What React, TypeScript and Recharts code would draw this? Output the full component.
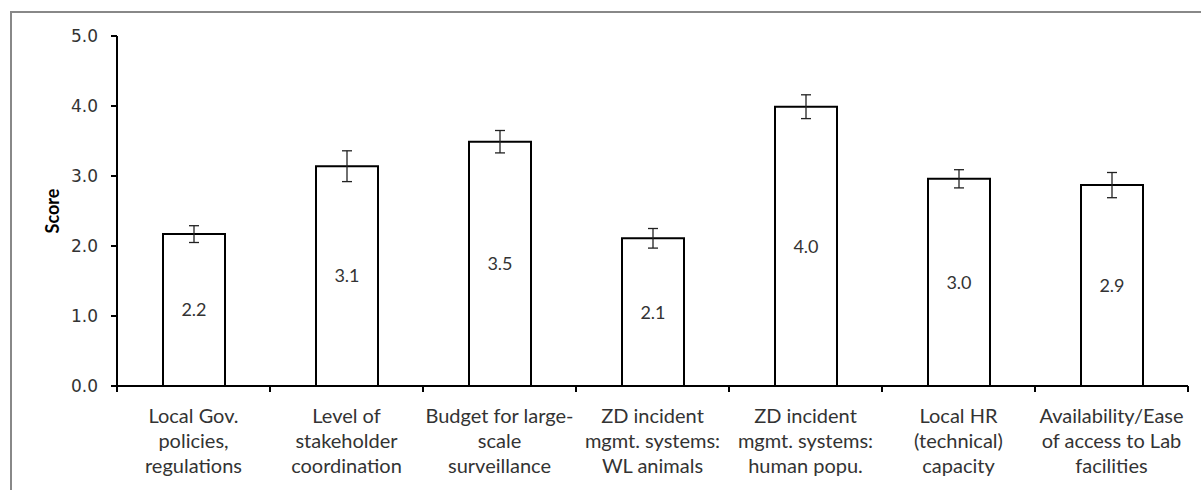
import React from "react";
import { Bar, BarChart, ErrorBar, LabelList, XAxis, YAxis } from "recharts";

const categories = [
  "Local Gov. policies, regulations",
  "Level of stakeholder coordination",
  "Budget for large-scale surveillance",
  "ZD incident mgmt. systems: WL animals",
  "ZD incident mgmt. systems: human popu.",
  "Local HR (technical) capacity",
  "Availability/Ease of access to Lab facilities",
];

// how each category label wraps under the axis
const categoryLines = [
  ["Local Gov.", "policies,", "regulations"],
  ["Level of", "stakeholder", "coordination"],
  ["Budget for large-", "scale", "surveillance"],
  ["ZD incident", "mgmt. systems:", "WL animals"],
  ["ZD incident", "mgmt. systems:", "human popu."],
  ["Local HR", "(technical)", "capacity"],
  ["Availability/Ease", "of access to Lab", "facilities"],
];

const scores = [2.17, 3.14, 3.49, 2.11, 3.99, 2.96, 2.87];
const errors = [0.12, 0.22, 0.16, 0.14, 0.17, 0.13, 0.18];
const yTicks = [0, 1, 2, 3, 4, 5];

const data = categories.map((name, i) => ({ name, score: scores[i], err: errors[i] }));

const textFont = "Lato, 'Open Sans', sans-serif";

const CategoryTick = (props: any) => {
  const { x, y, payload, index } = props;
  const off = payload.offset ?? 0;
  const lines = categoryLines[index] || [];
  const last = index === categories.length - 1;
  return (
    <g>
      <line x1={x - off} x2={x - off} y1={y} y2={y + 6} stroke="#000" strokeWidth={2} />
      {last && <line x1={x + off} x2={x + off} y1={y} y2={y + 6} stroke="#000" strokeWidth={2} />}
      {lines.map((t: string, k: number) => (
        <text
          key={k}
          x={x}
          y={y + 37 + k * 25}
          textAnchor="middle"
          fill="#333"
          fontSize={20}
          fontFamily={textFont}
        >
          {t}
        </text>
      ))}
    </g>
  );
};

const ScoreLabel = ({ viewBox }: any) => {
  const cx = 52;
  const cy = viewBox.y + viewBox.height / 2;
  return (
    <text
      x={cx}
      y={cy}
      transform={`rotate(-90 ${cx} ${cy})`}
      textAnchor="middle"
      dominantBaseline="central"
      fontWeight="bold"
      fontSize={18}
      fontFamily={textFont}
      fill="#000"
    >
      Score
    </text>
  );
};

export default function App() {
  return (
    <div
      style={{
        position: "fixed",
        left: 0,
        top: 0,
        width: 1201,
        height: 490,
        background: "#fff",
        overflow: "hidden",
      }}
    >
      <div
        style={{
          position: "absolute",
          left: 10,
          top: 11,
          width: 1200,
          height: 520,
          border: "2px solid #888",
          boxSizing: "border-box",
        }}
      />
      <div style={{ position: "absolute", left: 0, top: 0 }}>
        <BarChart
          width={1201}
          height={490}
          data={data}
          margin={{ top: 36, right: 13, left: 0, bottom: 0 }}
          barSize={62}
        >
          <XAxis
            dataKey="name"
            height={104}
            axisLine={{ stroke: "#000", strokeWidth: 2 }}
            tickLine={false}
            tickSize={0}
            tickMargin={0}
            interval={0}
            tick={<CategoryTick />}
          />
          <YAxis
            width={117}
            domain={[0, 5]}
            ticks={yTicks}
            interval={0}
            tickFormatter={(v: number) => v.toFixed(1)}
            axisLine={{ stroke: "#000", strokeWidth: 2 }}
            tickLine={{ stroke: "#000", strokeWidth: 2 }}
            tickSize={6}
            tickMargin={13}
            tick={{ fill: "#333", fontSize: 17, fontFamily: "'DejaVu Sans', Verdana, sans-serif" }}
            label={{ content: <ScoreLabel /> }}
          />
          <Bar dataKey="score" fill="#fff" stroke="#000" strokeWidth={2} isAnimationActive={false}>
            <ErrorBar dataKey="err" width={5} stroke="#222" strokeWidth={1.3} />
            <LabelList
              dataKey="score"
              position="center"
              formatter={(v: any) => Number(v).toFixed(1)}
              fill="#333"
              fontSize={18}
              fontFamily={textFont}
            />
          </Bar>
        </BarChart>
      </div>
    </div>
  );
}
